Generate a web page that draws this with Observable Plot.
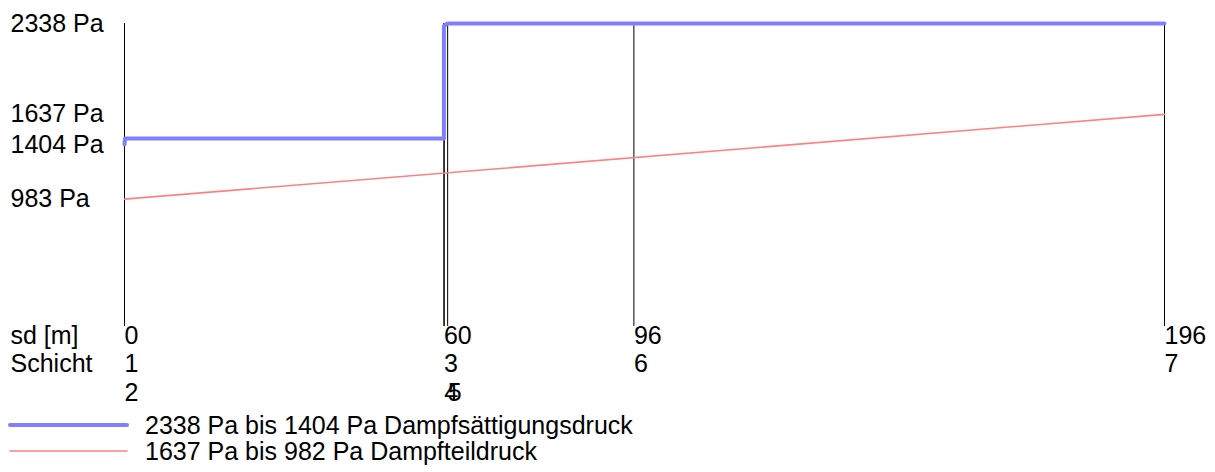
<!DOCTYPE html>
<html><head><meta charset="utf-8">
<script src="https://cdn.jsdelivr.net/npm/d3@7"></script>
<script src="https://cdn.jsdelivr.net/npm/@observablehq/plot@0.6"></script>
<style>
body{margin:0;background:#fff;font-family:"Liberation Sans",Arial,sans-serif;width:1215px;height:472px;position:relative;overflow:hidden;}
#chart svg{display:block;}
.leg{position:absolute;left:0;height:26px;font-size:25px;color:#000;white-space:nowrap;}
.leg svg{position:absolute;left:0;top:0;display:block;}
.leg span{position:absolute;left:145px;top:0;line-height:26px;}
</style></head><body>
<div id="chart"></div>
<div class="leg" id="leg1" style="top:412px"></div>
<div class="leg" id="leg2" style="top:438px"></div>
<script>
// layers (Schicht) and their sd positions [m]
const layerNames = ["1","2","3","4","5","6","7"];
const layerPos   = [0, 0, 60.2, 60.25, 60.9, 96, 196];
const layerRow   = [0, 1, 0, 1, 1, 0, 0];
// sd axis labels
const sdLabels = ["0","60","96","196"];
const sdPos    = [0, 60.2, 96, 196];
// pressure tick labels [Pa]
const yTicks = [2338, 1637, 1404, 983];
// saturation pressure (Dampfsättigungsdruck)
const satX = [0, 0.1, 60.2, 60.2, 60.9, 196];
const satY = [1404, 1450, 1450, 2320, 2338, 2338];
// partial pressure (Dampfteildruck)
const partX = [0, 196];
const partY = [983, 1637];
const legendLabels = ["2338 Pa bis 1404 Pa Dampfsättigungsdruck", "1637 Pa bis 982 Pa Dampfteildruck"];
const satColor = "#8080ff", partColor = "#ff8080";

const sat = satX.map((x, i) => ({x, y: satY[i]}));
const part = partX.map((x, i) => ({x, y: partY[i]}));
const layers = layerNames.map((n, i) => ({n, x: layerPos[i], row: layerRow[i]}));
const sd = sdLabels.map((t, i) => ({t, x: sdPos[i]}));

const FS = 25;
const R1 = 17, R2 = 45, R3 = 74;
const txt = {textAnchor: "start", fill: "#000", fontSize: FS};
const plot = Plot.plot({
  width: 1215, height: 412,
  marginLeft: 124, marginRight: 51, marginTop: 23, marginBottom: 86,
  x: {domain: [0, 196], axis: null},
  y: {domain: [0, 2338], axis: null},
  style: {fontFamily: '"Liberation Sans", Arial, sans-serif', fontSize: FS + "px", color: "#000", background: "#fff", overflow: "visible"},
  marks: [
    Plot.ruleX(layers, {x: "x", y1: 0, y2: 2338, stroke: "#000", strokeWidth: 1}),
    Plot.line(part, {x: "x", y: "y", stroke: partColor, strokeWidth: 1.6}),
    Plot.line(sat, {x: "x", y: "y", stroke: satColor, strokeWidth: 4, strokeLinejoin: "round", strokeLinecap: "round"}),
    Plot.text(yTicks, {x: 0, y: d => d, text: d => `${d} Pa`, dx: -114, ...txt}),
    Plot.text(["sd [m]"], {frameAnchor: "bottom-left", dx: -114, dy: R1, text: d => d, ...txt}),
    Plot.text(["Schicht"], {frameAnchor: "bottom-left", dx: -114, dy: R2, text: d => d, ...txt}),
    Plot.text(sd, {x: "x", frameAnchor: "bottom", dy: R1, text: "t", ...txt}),
    Plot.text(layers.filter(d => d.row === 0), {x: "x", frameAnchor: "bottom", dy: R2, text: "n", ...txt}),
    Plot.text(layers.filter(d => d.row === 1), {x: "x", frameAnchor: "bottom", dy: R3, text: "n", ...txt})
  ]
});
document.getElementById("chart").append(plot);

function legendRow(el, color, w, label) {
  el.innerHTML = `<svg width="130" height="26"><line x1="10" x2="127" y1="13" y2="13" stroke="${color}" stroke-width="${w}" stroke-linecap="round"/></svg><span>${label}</span>`;
}
legendRow(document.getElementById("leg1"), satColor, 4, legendLabels[0]);
legendRow(document.getElementById("leg2"), partColor, 1.6, legendLabels[1]);
</script>
</body></html>
